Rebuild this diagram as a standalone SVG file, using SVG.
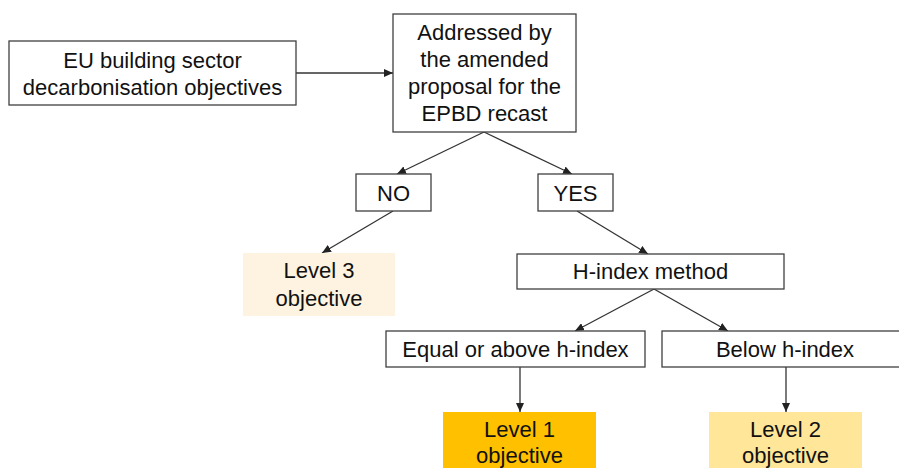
<svg xmlns="http://www.w3.org/2000/svg" width="899" height="468" viewBox="0 0 899 468">
<style>
.box{fill:#fff;stroke:#404040;stroke-width:1.3}
.t{font-family:"Liberation Sans",Arial,sans-serif;font-size:22px;fill:#111;text-anchor:middle}
.c{stroke:#333;stroke-width:1.3;fill:none;marker-end:url(#ah)}
</style>
<defs>
<marker id="ah" markerUnits="userSpaceOnUse" markerWidth="10" markerHeight="8" refX="9" refY="4" orient="auto">
<path d="M0,0 L9,4 L0,8 Z" fill="#222"/>
</marker>
</defs>
<rect width="899" height="468" fill="#fff"/>
<g id="connectors">
<line class="c" x1="296" y1="73" x2="393" y2="73"/>
<line class="c" x1="484" y1="132" x2="397" y2="174"/>
<line class="c" x1="484" y1="132" x2="572" y2="174"/>
<line class="c" x1="393" y1="211" x2="322" y2="253"/>
<line class="c" x1="577" y1="211" x2="648" y2="254"/>
<line class="c" x1="654" y1="289" x2="575" y2="331"/>
<line class="c" x1="654" y1="289" x2="728" y2="331"/>
<line class="c" x1="520" y1="367" x2="520" y2="412"/>
<line class="c" x1="786" y1="367" x2="786" y2="412"/>
</g>
<g id="eu">
<rect class="box" x="9" y="41" width="287" height="64"/>
<text class="t" x="152.5" y="68">EU building sector</text>
<text class="t" x="152.5" y="95">decarbonisation objectives</text>
</g>
<g id="addressed">
<rect class="box" x="393" y="14" width="183" height="118"/>
<text class="t" x="484.5" y="40">Addressed by</text>
<text class="t" x="484.5" y="67">the amended</text>
<text class="t" x="484.5" y="94">proposal for the</text>
<text class="t" x="484.5" y="121">EPBD recast</text>
</g>
<g id="no">
<rect class="box" x="356" y="174" width="75" height="37"/>
<text class="t" x="393.5" y="200.5">NO</text>
</g>
<g id="yes">
<rect class="box" x="538" y="174" width="75" height="37"/>
<text class="t" x="575.5" y="200.5">YES</text>
</g>
<g id="level3">
<rect x="243" y="253" width="152" height="63" fill="#FEF3E0"/>
<text class="t" x="319" y="278">Level 3</text>
<text class="t" x="319" y="306">objective</text>
</g>
<g id="hindex">
<rect class="box" x="517" y="254" width="267" height="35"/>
<text class="t" x="650.5" y="279">H-index method</text>
</g>
<g id="equal">
<rect class="box" x="386" y="331" width="259" height="36"/>
<text class="t" x="515.5" y="357">Equal or above h-index</text>
</g>
<g id="below">
<rect class="box" x="662" y="331" width="246" height="36"/>
<text class="t" x="785" y="357">Below h-index</text>
</g>
<g id="level1">
<rect x="443" y="412" width="153" height="60" fill="#FFC000"/>
<text class="t" x="519.5" y="437">Level 1</text>
<text class="t" x="519.5" y="463">objective</text>
</g>
<g id="level2">
<rect x="709" y="412" width="153" height="60" fill="#FFE699"/>
<text class="t" x="785.5" y="437">Level 2</text>
<text class="t" x="785.5" y="463">objective</text>
</g>
</svg>
